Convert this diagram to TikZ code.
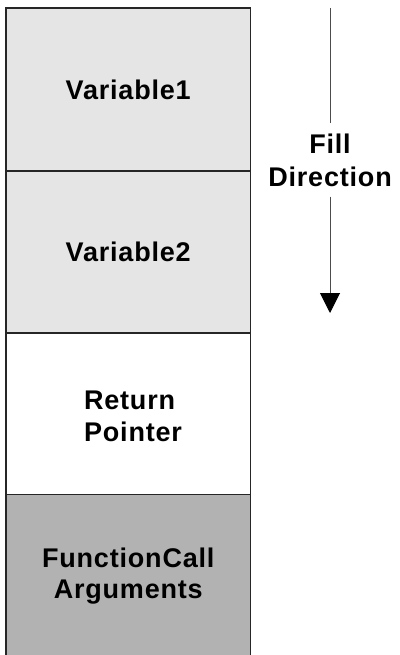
\documentclass[tikz,border=0pt]{standalone}
\usepackage{fontspec}
\setmainfont{Liberation Sans}[LetterSpace=3]
\usetikzlibrary{arrows.meta}

\definecolor{lightgrey}{gray}{0.90}
\definecolor{darkgrey}{gray}{0.70}
\definecolor{arrowgrey}{gray}{0.30}

\tikzset{
  frame/.style={draw=black!85, line width=1.3pt, minimum width=244.5pt,
    align=center, font=\fontsize{27}{31}\selectfont\bfseries},
  filltext/.style={align=center, inner xsep=0pt, inner ysep=10pt,
    font=\fontsize{27}{33}\selectfont\bfseries}
}

\begin{document}
\begin{tikzpicture}[x=1pt,y=-1pt]
\useasboundingbox (0,0) rectangle (399,655);
% stack frame, top to bottom
\node[frame, fill=lightgrey, minimum height=163pt] (var1) at (128.25,89.5) {Variable1};
\node[frame, fill=lightgrey, minimum height=162pt] (var2) at (128.25,252) {Variable2};
\node[frame, fill=white, minimum height=161.5pt] (ret) at (128.25,413.75) {};
\node[align=left, font=\fontsize{27}{32}\selectfont\bfseries] (retlabel) at (133,416) {Return\\Pointer};
\node[frame, fill=darkgrey, minimum height=163pt] (args) at (128.25,576) {FunctionCall\\Arguments};

% fill direction arrow
\coordinate (top) at (330,8);
\coordinate (bottom) at (330,313);
\node[filltext] (dir) at (330,160) {Fill\\Direction};
\draw[arrowgrey, line width=1pt] (top) -- (dir.north);
\draw[arrowgrey, line width=1pt, -{Triangle[width=20pt,length=20pt,color=black]}] (dir.south) -- (bottom);
\end{tikzpicture}
\end{document}
